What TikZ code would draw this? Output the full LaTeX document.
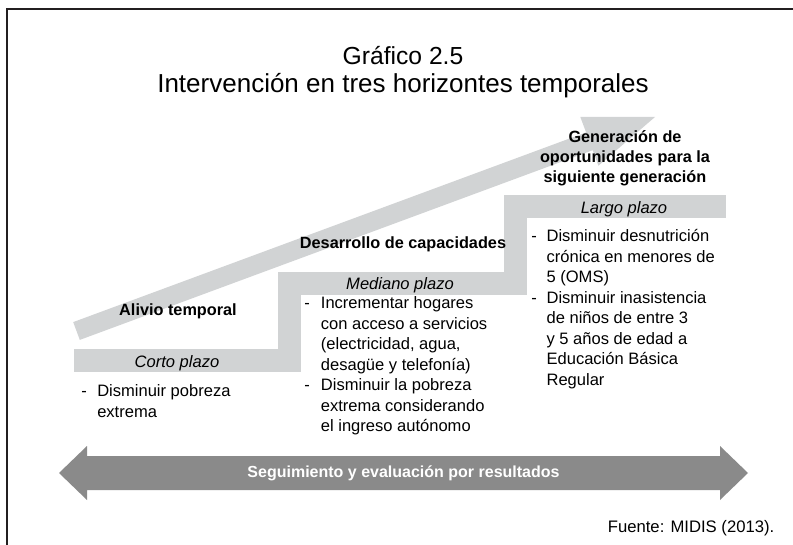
\documentclass[tikz,border=0pt]{standalone}
\usepackage{fontspec}
\setmainfont{Liberation Sans}
\definecolor{grisclaro}{RGB}{209,211,212}
\definecolor{grisoscuro}{RGB}{138,138,138}
\definecolor{marco}{RGB}{35,31,32}
\tikzset{
  escalon/.style={draw=grisclaro, line width=17.25pt, line join=miter},
  titular/.style={inner sep=0pt},
  plazo/.style={font=\fontsize{12.4}{14}\selectfont\itshape, inner sep=0pt, anchor=base},
  etapa/.style={font=\fontsize{12.2}{15}\selectfont\bfseries, inner sep=0pt, align=center},
  lista/.style={font=\fontsize{12.4}{15.4}\selectfont, inner sep=0pt, anchor=north west},
}
\begin{document}
\begin{tikzpicture}[x=0.75pt, y=-0.75pt]
\useasboundingbox (0,0) rectangle (793,545);
\draw[marco, line width=1.5pt] (7,545) -- (7,9) -- (793,9);

\node[titular, font=\fontsize{18.5}{22}\selectfont, anchor=base] (grafico) at (403,65) {Gráfico 2.5};
\node[titular, font=\fontsize{19.5}{22}\selectfont, anchor=base] (titulo) at (403,93) {Intervención en tres horizontes temporales};

\fill[grisclaro] (73.2,322.1) -- (586.1,132.4) -- (580.3,116.9) -- (655,117) -- (598.4,165.7) -- (592.7,150.2) -- (79.8,339.9) -- cycle;
\draw[escalon] (74,360.5) -- (289,360.5) -- (289,283.5) -- (515.5,283.5) -- (515.5,206.5) -- (726,206.5);

\node[etapa, anchor=base] (alivio) at (178,316) {Alivio temporal};
\node[etapa, anchor=base] (desarrollo) at (403,249) {Desarrollo de capacidades};
\node[etapa] (generacion) at (625,158) {Generación de\\oportunidades para la\\siguiente generación};

\node[plazo] (corto) at (177,367.5) {Corto plazo};
\node[plazo] (mediano) at (400,289.5) {Mediano plazo};
\node[plazo] (largo) at (624,213.5) {Largo plazo};

\node[lista] (lista1) at (81,382) {\begin{tabular}{@{}p{12pt}@{}l@{}}-&Disminuir pobreza\\&extrema\end{tabular}};
\node[lista] (lista2) at (304,294) {\begin{tabular}{@{}p{12.5pt}@{}l@{}}-&Incrementar hogares\\&con acceso a servicios\\&(electricidad, agua,\\&desagüe y telefonía)\\-&Disminuir la pobreza\\&extrema considerando\\&el ingreso autónomo\end{tabular}};
\node[lista] (lista3) at (531,227) {\begin{tabular}{@{}p{11.5pt}@{}l@{}}-&Disminuir desnutrición\\&crónica en menores de\\&5 (OMS)\\-&Disminuir inasistencia\\&de niños de entre 3\\&y 5 años de edad a\\&Educación Básica\\&Regular\end{tabular}};

\fill[grisoscuro] (59,473) -- (87,446) -- (87,456) -- (720,456) -- (720,446) -- (748,473) -- (720,500) -- (720,490) -- (87,490) -- (87,500) -- cycle;
\node[font=\fontsize{12}{14}\selectfont\bfseries, text=white] (seguimiento) at (403.5,473) {Seguimiento y evaluación por resultados};

\node[anchor=east, font=\fontsize{12.5}{14}\selectfont] (fuente) at (779,528) {Fuente: MIDIS (2013).};
\end{tikzpicture}
\end{document}
